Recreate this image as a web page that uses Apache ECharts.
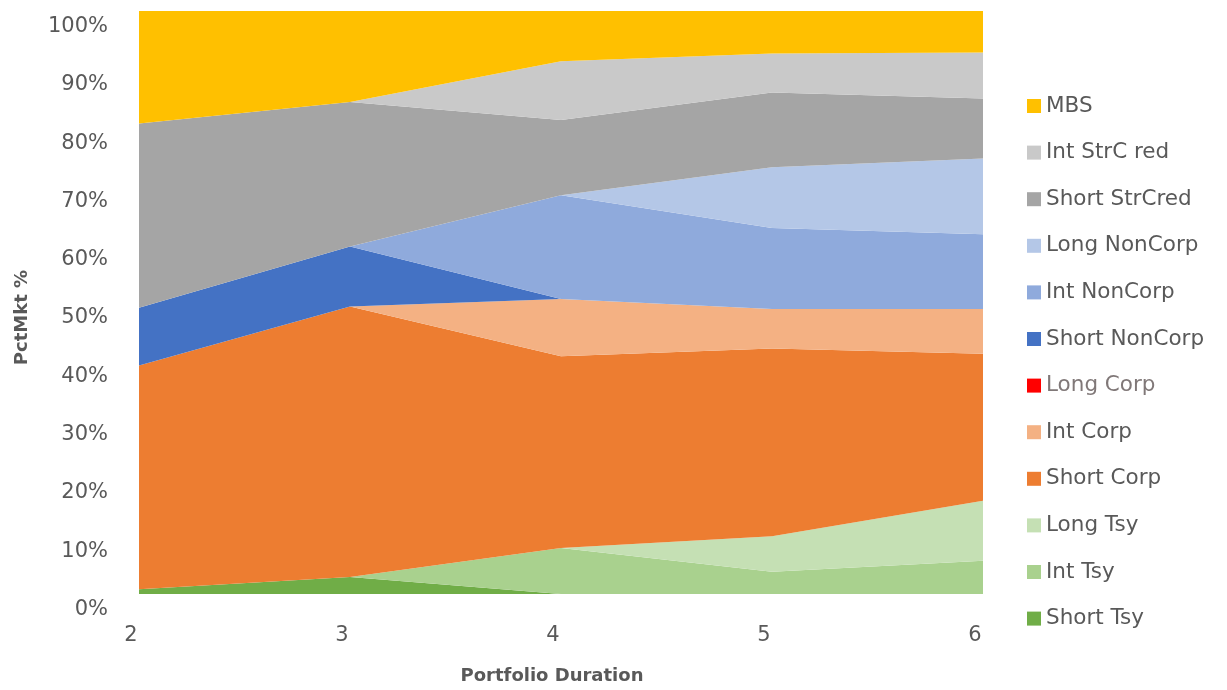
<!DOCTYPE html>
<html>
<head>
<meta charset="utf-8">
<title>PctMkt by Portfolio Duration</title>
<script src="https://cdn.jsdelivr.net/npm/echarts@6/dist/echarts.min.js"></script>
<style>
  html, body { margin: 0; padding: 0; background: #ffffff; }
  #chart { width: 1227px; height: 690px; }
</style>
</head>
<body>
<div id="chart"></div>
<script>
// Portfolio duration buckets (x axis)
const durations = ['2', '3', '4', '5', '6'];

// Share of market value (%) per sector bucket, bottom of the stack first
const shortTsy      = [0.8, 2.9, 0.0, 0.0, 0.0];
const intTsy        = [0.0, 0.0, 7.9, 3.8, 5.7];
const longTsy       = [0.0, 0.0, 0.0, 6.1, 10.3];
const shortCorp     = [38.4, 46.4, 32.9, 32.2, 25.2];
const intCorp       = [0.0, 0.0, 9.8, 6.8, 7.7];
const longCorp      = [0.0, 0.0, 0.0, 0.0, 0.0];
const shortNonCorp  = [9.9, 10.3, 0.0, 0.0, 0.0];
const intNonCorp    = [0.0, 0.0, 17.8, 13.9, 12.8];
const longNonCorp   = [0.0, 0.0, 0.0, 10.4, 13.0];
const shortStrCred  = [31.6, 24.8, 12.9, 12.8, 10.3];
const intStrCred    = [0.0, 0.0, 10.1, 6.7, 7.9];
const mbs           = [19.3, 15.6, 8.6, 7.5, 7.2];

// Percent tick labels on the value axis
const yTicks = [0, 10, 20, 30, 40, 50, 60, 70, 80, 90, 100];

const seriesDefs = [
  { name: 'Short Tsy',     data: shortTsy,     color: '#70AD47' },
  { name: 'Int Tsy',       data: intTsy,       color: '#A9D18E' },
  { name: 'Long Tsy',      data: longTsy,      color: '#C5E0B4' },
  { name: 'Short Corp',    data: shortCorp,    color: '#ED7D31' },
  { name: 'Int Corp',      data: intCorp,      color: '#F4B183' },
  { name: 'Long Corp',     data: longCorp,     color: '#FF0000' },
  { name: 'Short NonCorp', data: shortNonCorp, color: '#4472C4' },
  { name: 'Int NonCorp',   data: intNonCorp,   color: '#8FAADC' },
  { name: 'Long NonCorp',  data: longNonCorp,  color: '#B4C7E7' },
  { name: 'Short StrCred', data: shortStrCred, color: '#A5A5A5' },
  { name: 'Int StrC red',  data: intStrCred,   color: '#C9C9C9' },
  { name: 'MBS',           data: mbs,          color: '#FFC000' }
];

const textColor = '#595959';
const baseFont = 'DejaVu Sans, Liberation Sans, sans-serif';

const chart = echarts.init(document.getElementById('chart'), null, { renderer: 'canvas' });

// Legend lists the top of the stack first
const legendData = seriesDefs.slice().reverse().map(function (s) {
  return s.name === 'Long Corp'
    ? { name: s.name, textStyle: { color: '#807878' } }
    : { name: s.name };
});

chart.setOption({
  animation: false,
  backgroundColor: '#ffffff',
  textStyle: { fontFamily: baseFont },
  grid: { left: 139, right: 244, top: 11, bottom: 95, containLabel: false },
  legend: {
    orient: 'vertical',
    left: 1027,
    top: 95,
    padding: 0,
    itemWidth: 14,
    itemHeight: 14,
    itemGap: 24.6,
    icon: 'rect',
    data: legendData,
    textStyle: { color: textColor, fontSize: 21.5, lineHeight: 22, fontFamily: baseFont }
  },
  xAxis: {
    type: 'category',
    data: durations,
    boundaryGap: false,
    name: 'Portfolio Duration',
    nameLocation: 'middle',
    nameGap: 73,
    nameTextStyle: { color: textColor, fontSize: 18, fontWeight: 'bold', padding: [0, 18, 0, 0], fontFamily: baseFont },
    axisLine: { show: false },
    axisTick: { show: false },
    splitLine: { show: false },
    axisLabel: { color: textColor, fontSize: 21, margin: 31, padding: [0, 16, 0, 0] }
  },
  yAxis: {
    type: 'value',
    min: yTicks[0],
    max: yTicks[yTicks.length - 1],
    interval: yTicks[1] - yTicks[0],
    name: 'PctMkt %',
    nameLocation: 'middle',
    nameRotate: 90,
    nameGap: 108,
    nameTextStyle: { color: textColor, fontSize: 18, fontWeight: 'bold', padding: [0, 30, 0, 0], fontFamily: baseFont },
    axisLine: { show: false },
    axisTick: { show: false },
    splitLine: { show: false },
    axisLabel: { color: textColor, fontSize: 21, margin: 31, verticalAlign: 'top', padding: [5, 0, 0, 0], formatter: '{value}%' }
  },
  series: seriesDefs.map(function (s) {
    return {
      name: s.name,
      type: 'line',
      stack: 'total',
      data: s.data,
      symbol: 'none',
      showSymbol: false,
      smooth: false,
      color: s.color,
      lineStyle: { width: 0, color: s.color },
      areaStyle: { color: s.color, opacity: 1 },
      emphasis: { disabled: true }
    };
  })
});
</script>
</body>
</html>
